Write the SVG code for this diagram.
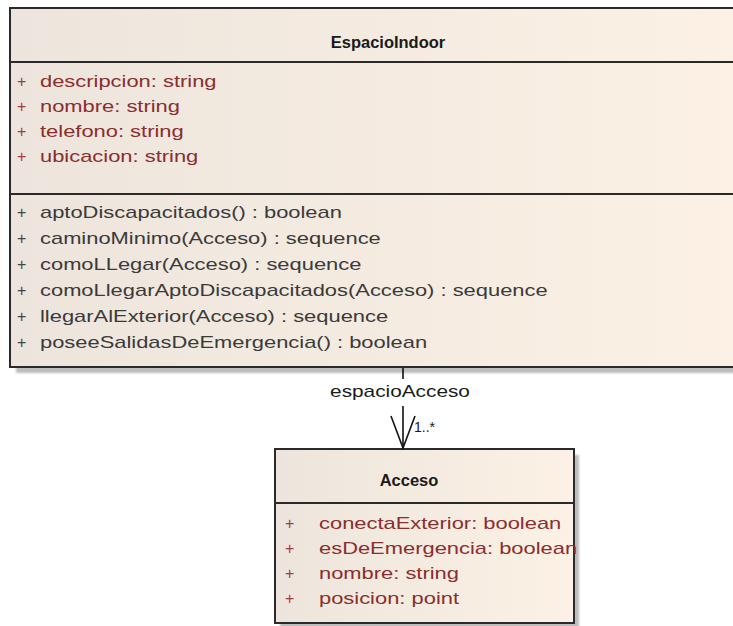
<svg xmlns="http://www.w3.org/2000/svg" width="733" height="626" viewBox="0 0 733 626">
  <defs>
    <linearGradient id="classFill" x1="0" y1="0" x2="1" y2="0">
      <stop offset="0" stop-color="#ede5dd"/>
      <stop offset="1" stop-color="#fcf1e4"/>
    </linearGradient>
    <filter id="shadowBlur" x="-5%" y="-5%" width="110%" height="110%">
      <feGaussianBlur stdDeviation="1.2"/>
    </filter>
    <style>
      .box { fill: url(#classFill); stroke: #2a2a2a; stroke-width: 2; }
      .sep { stroke: #2a2a2a; stroke-width: 2; }
      .shadow { fill: #bdbdbd; filter: url(#shadowBlur); }
      text { font-family: "Liberation Sans", Arial, sans-serif; font-size: 16px; }
      .title { font-weight: bold; fill: #1a1a1a; text-anchor: middle; font-size: 17px; }
      .attr { fill: #8a2e2e; }
      .vis-attr { fill: #a8393a; }
      .op { fill: #3a3a3a; }
      .vis-op { fill: #444; }
      .label { fill: #1a1a1a; }
      .edge { stroke: #111; stroke-width: 1.6; fill: none; }
    </style>
  </defs>

  <rect width="733" height="626" fill="#ffffff"/>

  <!-- class EspacioIndoor -->
  <g id="EspacioIndoor">
    <rect class="shadow" x="16" y="14" width="740" height="359"/>
    <rect class="box" x="10" y="8" width="740" height="359"/>
    <line class="sep" x1="10" y1="62" x2="750" y2="62"/>
    <line class="sep" x1="10" y1="194" x2="750" y2="194"/>
    <text class="title" transform="translate(388,48) scale(0.97,1)">EspacioIndoor</text>

    <text class="vis-attr" x="17" y="87">+</text>
    <text class="attr" transform="translate(40,87) scale(1.37,1)">descripcion: string</text>
    <text class="vis-attr" x="17" y="112">+</text>
    <text class="attr" transform="translate(40,112) scale(1.37,1)">nombre: string</text>
    <text class="vis-attr" x="17" y="137">+</text>
    <text class="attr" transform="translate(40,137) scale(1.37,1)">telefono: string</text>
    <text class="vis-attr" x="17" y="162">+</text>
    <text class="attr" transform="translate(40,162) scale(1.37,1)">ubicacion: string</text>

    <text class="vis-op" x="17" y="218">+</text>
    <text class="op" transform="translate(40,218) scale(1.37,1)">aptoDiscapacitados() : boolean</text>
    <text class="vis-op" x="17" y="244">+</text>
    <text class="op" transform="translate(40,244) scale(1.37,1)">caminoMinimo(Acceso) : sequence</text>
    <text class="vis-op" x="17" y="270">+</text>
    <text class="op" transform="translate(40,270) scale(1.37,1)">comoLLegar(Acceso) : sequence</text>
    <text class="vis-op" x="17" y="296">+</text>
    <text class="op" transform="translate(40,296) scale(1.37,1)">comoLlegarAptoDiscapacitados(Acceso) : sequence</text>
    <text class="vis-op" x="17" y="322">+</text>
    <text class="op" transform="translate(40,322) scale(1.37,1)">llegarAlExterior(Acceso) : sequence</text>
    <text class="vis-op" x="17" y="348">+</text>
    <text class="op" transform="translate(40,348) scale(1.37,1)">poseeSalidasDeEmergencia() : boolean</text>
  </g>

  <!-- class Acceso -->
  <g id="Acceso">
    <rect class="shadow" x="280" y="455" width="299" height="174"/>
    <rect class="box" x="275" y="449" width="299" height="174"/>
    <line class="sep" x1="275" y1="503" x2="574" y2="503"/>
    <text class="title" transform="translate(409,486) scale(0.97,1)">Acceso</text>

    <text class="vis-attr" x="285" y="529">+</text>
    <text class="attr" transform="translate(319,529) scale(1.37,1)">conectaExterior: boolean</text>
    <text class="vis-attr" x="285" y="554">+</text>
    <text class="attr" transform="translate(319,554) scale(1.37,1)">esDeEmergencia: boolean</text>
    <text class="vis-attr" x="285" y="579">+</text>
    <text class="attr" transform="translate(319,579) scale(1.37,1)">nombre: string</text>
    <text class="vis-attr" x="285" y="604">+</text>
    <text class="attr" transform="translate(319,604) scale(1.37,1)">posicion: point</text>
  </g>

  <!-- association EspacioIndoor -> Acceso (navigable end: open arrowhead) -->
  <g id="connectors">
    <line class="edge" x1="403" y1="368" x2="403" y2="379"/>
    <line class="edge" x1="403" y1="406" x2="403" y2="448"/>
    <path class="edge" d="M391 416 L403 448 L415 416"/>
    <text class="label" transform="translate(400,397) scale(1.3,1)" text-anchor="middle">espacioAcceso</text>
    <text class="label" x="414" y="432" style="font-size:14px">1..*</text>
  </g>
</svg>
